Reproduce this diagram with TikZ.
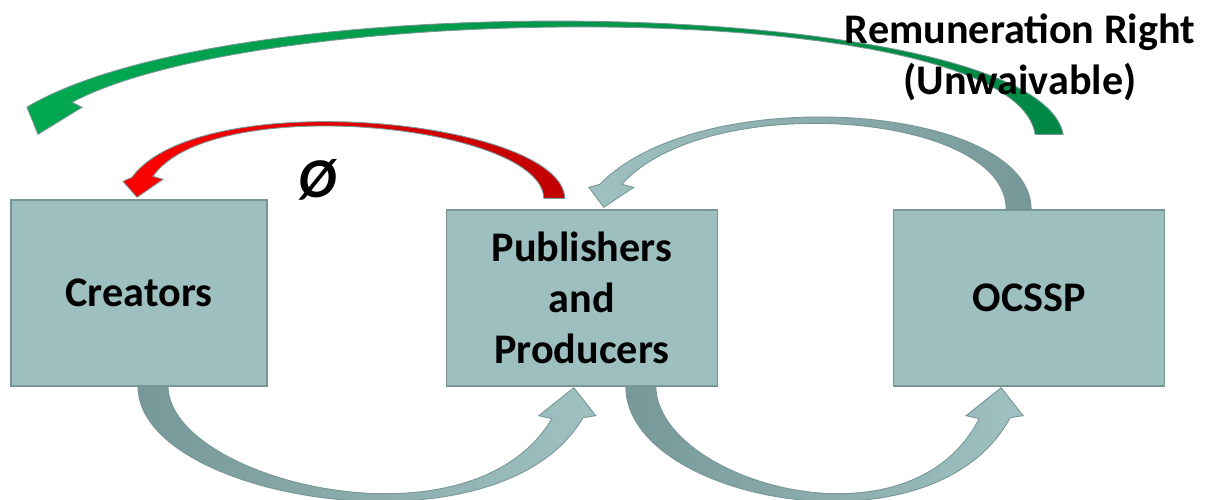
\documentclass[tikz,border=0pt]{standalone}
\usepackage{fontspec}
\setmainfont{Carlito}
\usepackage{tikz}
\usetikzlibrary{positioning,calc}
\definecolor{boxfill}{RGB}{158,191,191}
\definecolor{boxline}{RGB}{120,150,150}
\definecolor{flowdark}{RGB}{118,152,152}
\definecolor{flowlight}{RGB}{160,193,193}
\definecolor{redhead}{RGB}{255,0,0}
\definecolor{redtail}{RGB}{192,0,0}
\definecolor{greenhead}{RGB}{0,168,80}
\definecolor{greentail}{RGB}{0,136,68}

\begin{document}
\begin{tikzpicture}[
  x=0.02cm, y=-0.02cm,
  box/.style={rectangle, draw=boxline, line width=0.8pt, fill=boxfill, minimum width=5.42cm, minimum height=3.52cm, align=center, font=\fontsize{24}{29}\selectfont\bfseries},
  caption/.style={align=center, font=\fontsize{24}{29}\selectfont\bfseries},
  flow/.style={draw=boxline, line width=0.5pt, line join=miter}
]
\path[use as bounding box, fill=white] (0,0) rectangle (1208,500);

\node[box, minimum width=5.12cm, minimum height=3.72cm] (cre) at (139,293) {Creators};
\node[box, right=3.56cm of cre.south east, anchor=south west] (pub) {Publishers\\and\\Producers};
\node[box, right=3.5cm of pub.south east, anchor=south west] (oc) {OCSSP};

% tails and tips of the curved arrows
\coordinate (a1) at ($(cre.south)+(-1,0)$);
\coordinate (a2) at ($(pub.south)+(-8,1)$);
\coordinate (b1) at ($(pub.south)+(44,0)$);
\coordinate (b2) at ($(oc.south)+(-28,1)$);
\coordinate (c1) at ($(oc.north)+(2,0)$);
\coordinate (c2) at ($(pub.north)+(22,-2)$);
\coordinate (d1) at ($(pub.north)+(-17,-11)$);
\coordinate (d2) at ($(cre.north)+(-2,-2)$);
\coordinate (e1) at ($(oc.north)+(34,-75)$);
\coordinate (e2) at ($(cre.north)+(-101,-65)$);

% bottom arrows
\path[flow, left color=flowdark, right color=flowlight]
  (a1) .. controls +(0,114) and +(-82,143) .. ($(a2)+(9,30)$)
  -- ++(13,-2) -- (a2) -- ++(-35,28) -- ++(13,3)
  .. controls +(-81,137) and +(2,94) .. ($(a1)+(30,0)$) -- cycle;
\path[flow, left color=flowdark, right color=flowlight]
  (b1) .. controls +(0,114) and +(-77,143) .. ($(b2)+(9,30)$)
  -- ++(13,-2) -- (b2) -- ++(-35,28) -- ++(13,3)
  .. controls +(-70,137) and +(2,94) .. ($(b1)+(30,0)$) -- cycle;

% top arrows
\path[flow, left color=flowlight, right color=flowdark]
  (c1) .. controls +(0,-105) and +(102,-105) .. ($(c2)+(-4,-23)$)
  -- ++(-11,3) -- (c2) -- ++(30,-20) -- ++(-12,-3)
  .. controls +(85,-95) and +(0,-98) .. ($(c1)+(-25,0)$) -- cycle;
\path[flow, left color=redhead, right color=redtail]
  (d1) .. controls +(-3,-79) and +(68,-93) .. ($(d2)+(-5,-20)$)
  -- ++(-9,4) -- (d2) -- ++(26,-18) -- ++(-10,-3)
  .. controls +(59,-85) and +(-2,-74) .. ($(d1)+(-21,0)$) -- cycle;
\path[flow, left color=greenhead, right color=greentail]
  (e1) .. controls +(-25,-135) and +(220,-126) .. ($(e2)+(-8,-29)$)
  -- ++(-3,2) -- (e2) -- ++(44,-27) -- ++(-10,-5)
  .. controls +(193,-103) and +(-22,-140) .. ($(e1)+(-28,0)$) -- cycle;

\node[caption] (rr) at (1020,57) {Remuneration Right\\(Unwaivable)};
\node[caption, font=\fontsize{32}{38}\selectfont\bfseries\itshape] (nul) at (318,180) {Ø};
\end{tikzpicture}
\end{document}
